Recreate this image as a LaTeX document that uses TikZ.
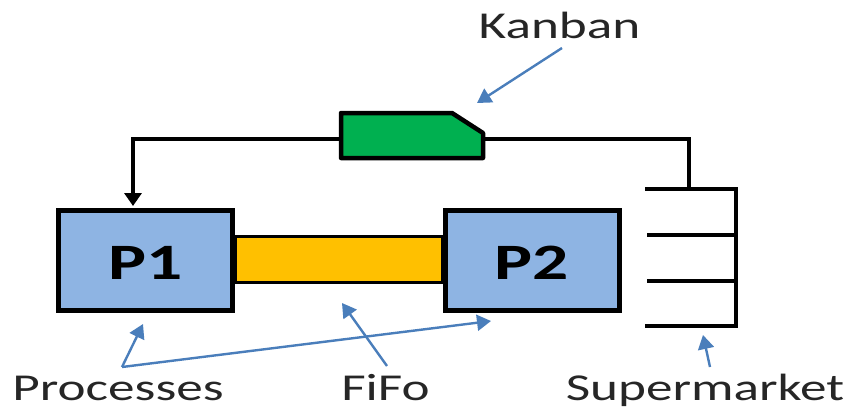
\documentclass[tikz,border=0pt]{standalone}
\usepackage{fontspec}
\newfontfamily\lbl[FakeStretch=1.4]{Carlito}
\usetikzlibrary{arrows.meta}
\definecolor{pblue}{RGB}{142,180,227}
\definecolor{fifo}{RGB}{255,192,0}
\definecolor{kgreen}{RGB}{0,176,80}
\definecolor{callout}{RGB}{74,126,187}
\tikzset{
  procbox/.style={draw=black, line width=4.5pt, fill=pblue, minimum width=174pt, minimum height=100pt, inner sep=0pt},
  fifobar/.style={draw=black, line width=3.5pt, fill=fifo, minimum width=208pt, minimum height=46pt, inner sep=0pt},
  plabel/.style={font=\lbl\bfseries\fontsize{51}{51}\selectfont, anchor=base},
  tlabel/.style={font=\lbl\fontsize{38}{38}\selectfont, anchor=base, text=black!85, inner sep=0pt},
  feed/.style={draw=black, line width=3.5pt},
  callarrow/.style={draw=callout, line width=2.4pt, -{Triangle[width=16pt,length=14pt]}},
  callline/.style={draw=callout, line width=2.4pt}
}
\begin{document}
\begin{tikzpicture}[x=1pt, y=-1pt]
\useasboundingbox (0,0) rectangle (854,408);
% FiFo bar
\node[fifobar] (fifo) at (339,259.5) {};
% Processes
\node[procbox] (p1) at (145.5,260.5) {};
\node[procbox] (p2) at (532.5,260.5) {};
\node[plabel] (p1t) at (146,279) {P1};
\node[plabel] (p2t) at (532,279) {P2};
% Kanban card
\coordinate (kTL) at (341,113);
\coordinate (kTC) at (452,113);
\coordinate (kRC) at (483,133);
\coordinate (kBR) at (483,158);
\coordinate (kBL) at (341,158);
\coordinate (kL) at (341,139);
\coordinate (kR) at (483,139);
\draw[line width=4.5pt, fill=kgreen, line join=round] (kTL) -- (kTC) -- (kRC) -- (kBR) -- (kBL) -- cycle;
% Supermarket
\coordinate (s1l) at (647,189); \coordinate (s1r) at (736,189);
\coordinate (s2l) at (647,235); \coordinate (s2r) at (736,235);
\coordinate (s3l) at (647,281); \coordinate (s3r) at (736,281);
\coordinate (s4l) at (647,326); \coordinate (s4r) at (736,326);
\draw[feed, line cap=rect] (s1l) -- (s1r) -- (s4r) -- (s4l);
\draw[feed] (s2l) -- (s2r);
\draw[feed] (s3l) -- (s3r);
% Feedback loop
\coordinate (smTop) at (689,189);
\coordinate (fbR) at (689,139);
\coordinate (fbL) at (133,139);
\coordinate (p1in) at (133,206);
\draw[feed] (smTop) -- (fbR) -- (kR);
\draw[feed, -{Triangle[width=17pt,length=13pt]}] (kL) -- (fbL) -- (p1in);
% Labels
\node[tlabel] (kanban) at (559.5,38) {Kanban};
\node[tlabel] (proc) at (118,400) {Processes};
\node[tlabel] (fifot) at (385.5,400) {FiFo};
\node[tlabel] (super) at (705,400) {Supermarket};
% Callout arrows
\coordinate (kanTail) at (562,48);
\coordinate (kanTip) at (477,103);
\draw[callarrow] (kanTail) -- (kanTip);
\coordinate (procJ) at (122,367);
\coordinate (p1Tip) at (143,324);
\coordinate (p2Tip) at (491,321);
\draw[callarrow] (procJ) -- (p1Tip);
\draw[callarrow] (procJ) -- (p2Tip);
\coordinate (fifoTail) at (387,366);
\coordinate (fifoTip) at (342,303);
\draw[callarrow] (fifoTail) -- (fifoTip);
\coordinate (smTail) at (710,367);
\coordinate (smTip) at (703,335);
\draw[callarrow] (smTail) -- (smTip);
\end{tikzpicture}
\end{document}
